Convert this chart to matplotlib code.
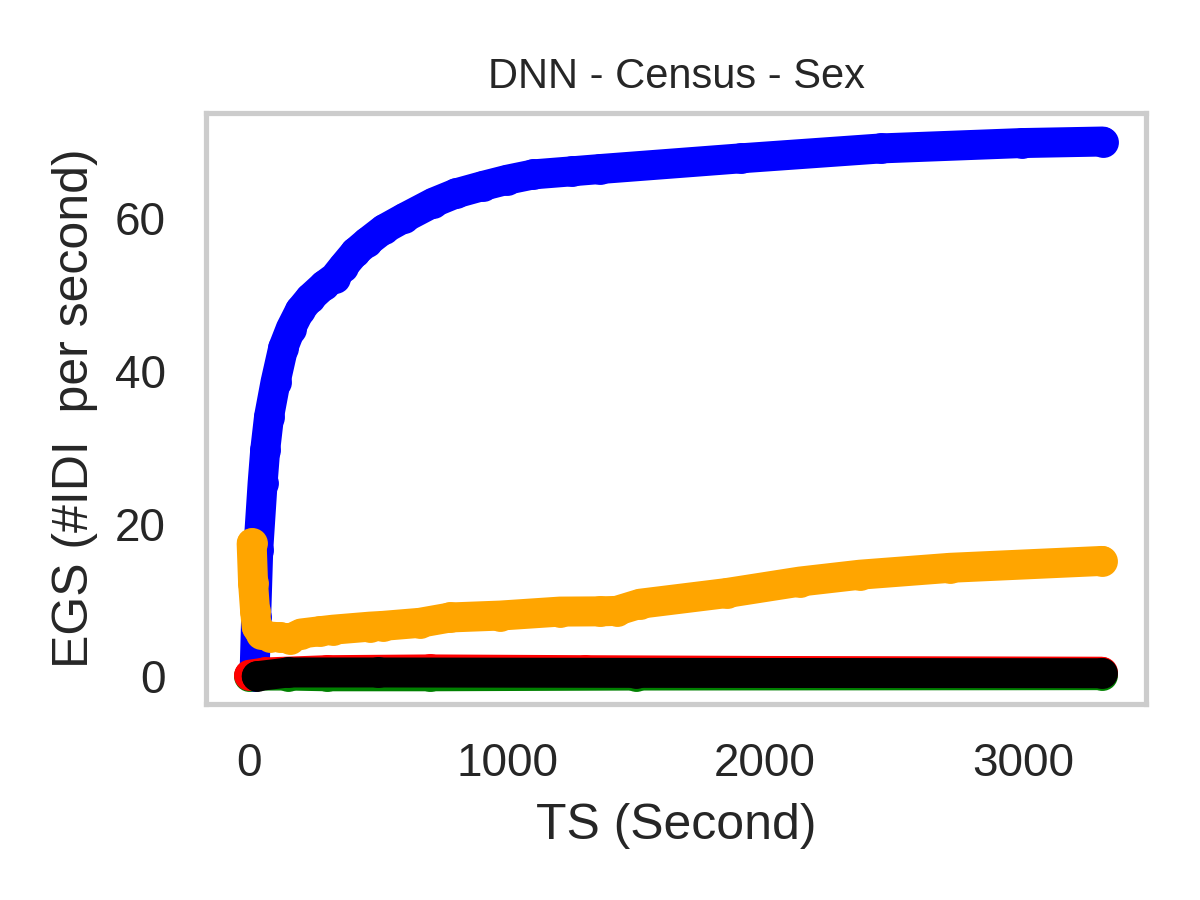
import numpy as np
import seaborn as sns
from matplotlib import pyplot as plt

#####

# time (s) and EGS values
blue_t = [18, 21, 26, 34, 51, 61, 76, 101, 131, 160, 196, 235, 290, 330, 363, 410, 455,
          520, 600, 713, 800, 907, 1000, 1101, 1250, 1360, 1905, 2450, 2996, 3309]
blue_v = [0.0, 1.8, 7.8, 16.5, 25.3, 29.6, 34.0, 38.5, 43.0, 45.5, 47.9, 49.5, 51.2, 52.2, 53.6, 55.5, 56.8,
          58.5, 60.0, 62.0, 63.2, 64.2, 65.0, 65.7, 66.1, 66.4, 67.8, 69.1, 69.8, 70.0]

orange_t = [8.5, 14, 22, 28, 45, 80, 120, 157, 200, 273, 324, 467, 518, 661, 778, 973,
            1204, 1360, 1424, 1515, 1851, 2135, 2368, 2717, 3306]
orange_v = [17.4, 12.2, 8.5, 6.5, 5.6, 5.2, 5.1, 4.9, 5.6, 5.9, 6.1, 6.5, 6.6, 7.0, 7.7, 7.95,
            8.47, 8.5, 8.56, 9.5, 10.9, 12.4, 13.3, 14.2, 15.1]

green_t = [0, 150, 300, 700, 1500, 3305]
green_v = [0.1, 0.1, 0.0, 0.0, 0.1, 0.15]

red_t = [0, 60, 300, 700, 1300, 2000, 3305]
red_v = [0.2, 0.5, 0.8, 0.9, 0.8, 0.7, 0.6]

black_t = [28, 150, 500, 1500, 3305]
black_v = [0.0, 0.5, 0.5, 0.45, 0.4]

series = [(blue_t, blue_v, 'blue'),
          (orange_t, orange_v, 'orange'),
          (green_t, green_v, 'green'),
          (red_t, red_v, 'red'),
          (black_t, black_v, 'black')]

#####

sns.set_style('whitegrid')
plt.rcParams['font.family'] = ['Liberation Sans', 'DejaVu Sans']

fig = plt.figure(figsize=(4, 3), dpi=300)
fig.subplots_adjust(left=0.172, right=0.955, bottom=0.218, top=0.875)
ax = plt.gca()

for tt, vv, col in series:
    ax.plot(tt, vv, color=col, marker='o', markersize=6.4, markeredgewidth=1,
            linewidth=7.2, solid_joinstyle='round', solid_capstyle='round')

ax.grid(False)
ax.set_xlim([-167, 3477])
ax.set_ylim([-3.6, 73.8])
ax.set_xticks([0, 1000, 2000, 3000])
ax.set_yticks([0, 20, 40, 60])
ax.tick_params(axis='x', labelsize=11, pad=5.7)
ax.tick_params(axis='y', labelsize=11, pad=6.3)
for sp in ax.spines.values():
    sp.set_color('.8')
    sp.set_linewidth(1.25)

ax.set_xlabel('TS (Second)', fontsize=12)
ax.set_ylabel('EGS (#IDI  per second)', fontsize=12)
ax.set_title('DNN - Census - Sex', fontsize=10)

fig.savefig('out.png', dpi=300)
